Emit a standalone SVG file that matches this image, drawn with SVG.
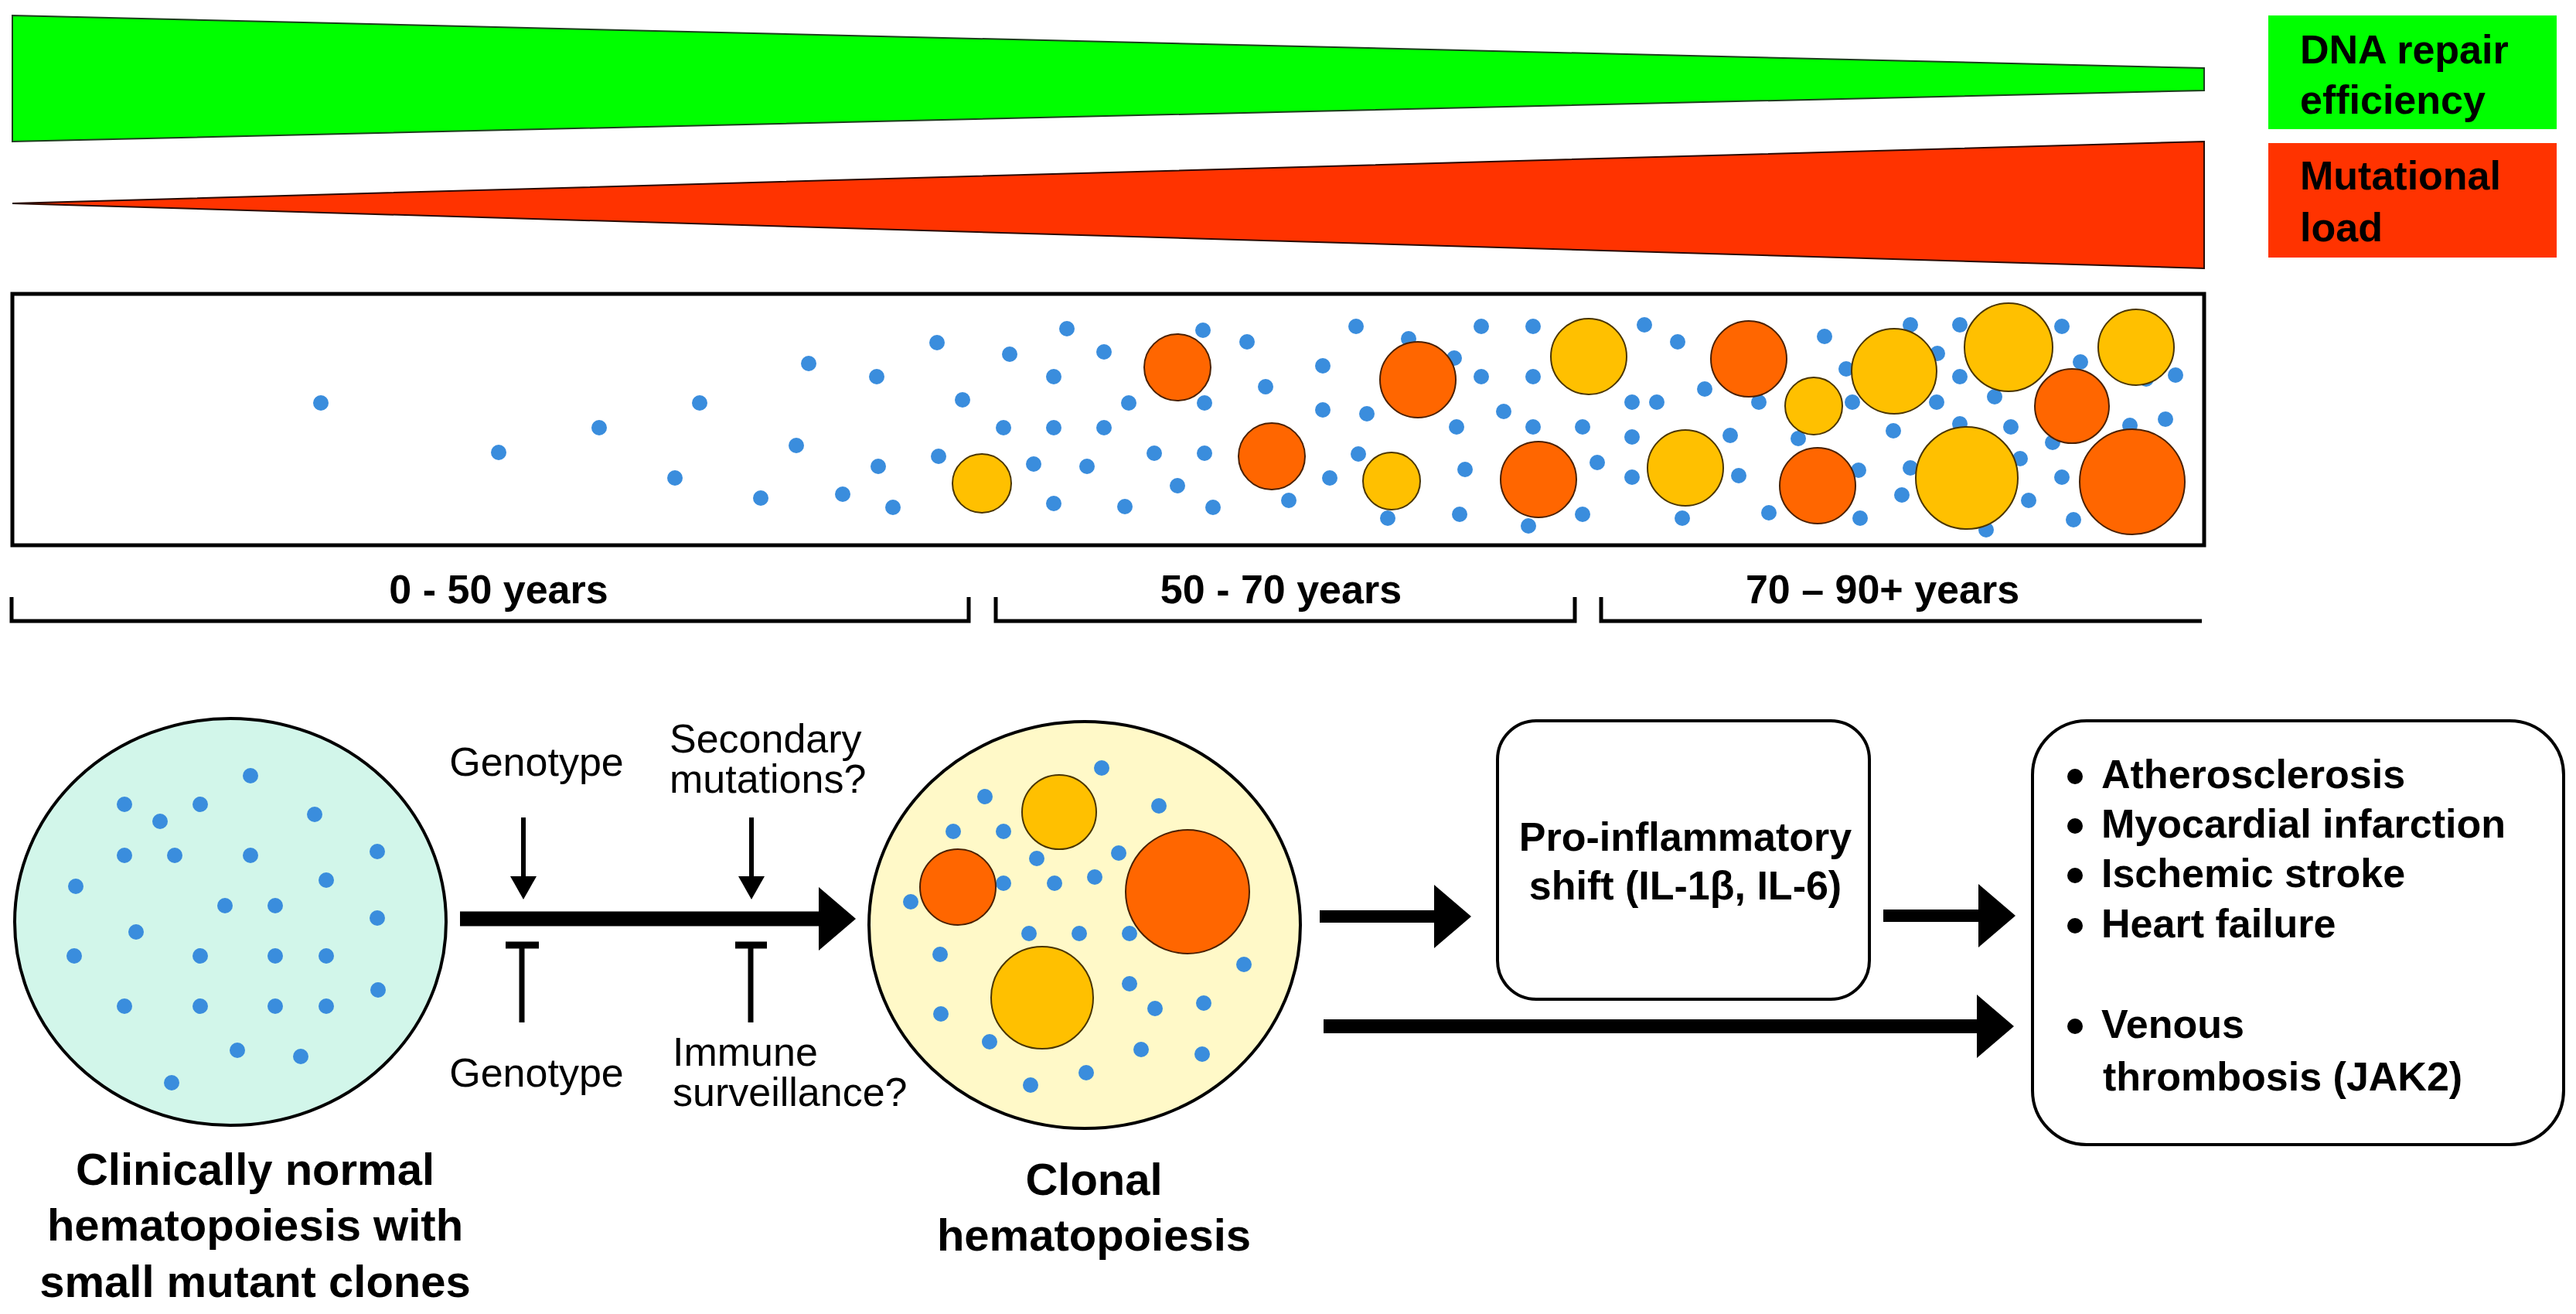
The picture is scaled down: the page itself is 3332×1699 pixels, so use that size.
<svg xmlns="http://www.w3.org/2000/svg" width="3332" height="1699" viewBox="0 0 3332 1699">
<defs>
<style>
text{font-family:"Liberation Sans",Arial,Helvetica,sans-serif;fill:#000}
.b{font-weight:bold;font-size:52px}
.r{font-size:52px}
.lbl{font-weight:bold;font-size:58px}
.dot{fill:#3a8ddd}
.cy{fill:#ffc000;stroke:#4a3500;stroke-width:2}
.co{fill:#ff6600;stroke:#4a2000;stroke-width:2}
.ln{stroke:#000;fill:none}
.box{fill:#fff;stroke:#000;stroke-width:4}
</style>
<marker id="bigHead" viewBox="0 0 48 82" markerWidth="48" markerHeight="82" markerUnits="userSpaceOnUse" refX="18" refY="41" orient="auto"><path d="M0,0 L48,41 L0,82 Z" fill="#000"/></marker>
<marker id="smallHead" viewBox="0 0 30 34" markerWidth="30" markerHeight="34" markerUnits="userSpaceOnUse" refX="10" refY="17" orient="auto"><path d="M0,0 L30,17 L0,34 Z" fill="#000"/></marker>
</defs>
<rect width="3332" height="1699" fill="#fff"/>

<g id="gradient-bars">
<polygon points="16,20 2851,88 2851,117 16,183" fill="#00ff00" stroke="#1d3d1d" stroke-width="2"/>
<polygon points="16,263 2851,183 2851,347" fill="#ff3300" stroke="#2a0a00" stroke-width="2"/>
</g>

<g id="legend-dna">
<rect x="2934" y="20" width="373" height="147" fill="#00ff00"/>
<text class="b" x="2975" y="82">DNA repair</text>
<text class="b" x="2975" y="147">efficiency</text>
</g>
<g id="legend-mut">
<rect x="2934" y="185" width="373" height="148" fill="#ff3300"/>
<text class="b" x="2975" y="245">Mutational</text>
<text class="b" x="2975" y="312">load</text>
</g>

<g id="timeline">
<rect x="16" y="380" width="2835" height="325" fill="#fff" stroke="#000" stroke-width="5"/>
<g id="timeline-dots">
<circle class="dot" cx="415" cy="521" r="10"/><circle class="dot" cx="645" cy="585" r="10"/><circle class="dot" cx="775" cy="553" r="10"/><circle class="dot" cx="905" cy="521" r="10"/><circle class="dot" cx="873" cy="618" r="10"/><circle class="dot" cx="1046" cy="470" r="10"/><circle class="dot" cx="1134" cy="487" r="10"/><circle class="dot" cx="1030" cy="576" r="10"/><circle class="dot" cx="984" cy="644" r="10"/><circle class="dot" cx="1090" cy="639" r="10"/><circle class="dot" cx="1136" cy="603" r="10"/><circle class="dot" cx="1155" cy="656" r="10"/><circle class="dot" cx="1212" cy="443" r="10"/><circle class="dot" cx="1245" cy="517" r="10"/><circle class="dot" cx="1214" cy="590" r="10"/><circle class="dot" cx="1306" cy="458" r="10"/><circle class="dot" cx="1298" cy="553" r="10"/><circle class="dot" cx="1363" cy="553" r="10"/><circle class="dot" cx="1428" cy="553" r="10"/><circle class="dot" cx="1380" cy="425" r="10"/><circle class="dot" cx="1428" cy="455" r="10"/><circle class="dot" cx="1363" cy="487" r="10"/><circle class="dot" cx="1460" cy="521" r="10"/><circle class="dot" cx="1337" cy="600" r="10"/><circle class="dot" cx="1406" cy="603" r="10"/><circle class="dot" cx="1363" cy="651" r="10"/><circle class="dot" cx="1455" cy="655" r="10"/><circle class="dot" cx="1493" cy="586" r="10"/><circle class="dot" cx="1558" cy="586" r="10"/><circle class="dot" cx="1523" cy="628" r="10"/><circle class="dot" cx="1569" cy="656" r="10"/><circle class="dot" cx="1556" cy="427" r="10"/><circle class="dot" cx="1613" cy="442" r="10"/><circle class="dot" cx="1637" cy="500" r="10"/><circle class="dot" cx="1558" cy="521" r="10"/><circle class="dot" cx="1667" cy="647" r="10"/>
<circle class="dot" cx="1754" cy="422" r="10"/><circle class="dot" cx="1711" cy="473" r="10"/><circle class="dot" cx="1711" cy="530" r="10"/><circle class="dot" cx="1768" cy="535" r="10"/><circle class="dot" cx="1822" cy="438" r="10"/><circle class="dot" cx="1881" cy="463" r="10"/><circle class="dot" cx="1916" cy="422" r="10"/><circle class="dot" cx="1983" cy="422" r="10"/><circle class="dot" cx="1916" cy="487" r="10"/><circle class="dot" cx="1983" cy="487" r="10"/><circle class="dot" cx="1945" cy="532" r="10"/><circle class="dot" cx="1884" cy="552" r="10"/><circle class="dot" cx="1983" cy="552" r="10"/><circle class="dot" cx="2047" cy="552" r="10"/><circle class="dot" cx="2127" cy="420" r="10"/><circle class="dot" cx="2170" cy="442" r="10"/><circle class="dot" cx="2111" cy="520" r="10"/><circle class="dot" cx="2143" cy="520" r="10"/><circle class="dot" cx="2205" cy="503" r="10"/><circle class="dot" cx="2111" cy="565" r="10"/><circle class="dot" cx="2238" cy="563" r="10"/><circle class="dot" cx="2275" cy="520" r="10"/><circle class="dot" cx="2360" cy="435" r="10"/><circle class="dot" cx="2388" cy="477" r="10"/><circle class="dot" cx="2396" cy="520" r="10"/><circle class="dot" cx="2449" cy="557" r="10"/><circle class="dot" cx="2326" cy="567" r="10"/><circle class="dot" cx="2471" cy="420" r="10"/><circle class="dot" cx="2535" cy="420" r="10"/><circle class="dot" cx="2506" cy="457" r="10"/><circle class="dot" cx="2535" cy="487" r="10"/><circle class="dot" cx="2505" cy="520" r="10"/><circle class="dot" cx="2580" cy="513" r="10"/><circle class="dot" cx="2535" cy="548" r="10"/><circle class="dot" cx="2601" cy="552" r="10"/><circle class="dot" cx="2667" cy="422" r="10"/><circle class="dot" cx="2691" cy="468" r="10"/><circle class="dot" cx="2776" cy="490" r="10"/><circle class="dot" cx="2814" cy="485" r="10"/><circle class="dot" cx="2801" cy="542" r="10"/><circle class="dot" cx="2755" cy="550" r="10"/><circle class="dot" cx="2655" cy="572" r="10"/><circle class="dot" cx="1757" cy="587" r="10"/><circle class="dot" cx="1720" cy="618" r="10"/><circle class="dot" cx="1795" cy="670" r="10"/><circle class="dot" cx="1895" cy="607" r="10"/><circle class="dot" cx="1888" cy="665" r="10"/><circle class="dot" cx="1977" cy="680" r="10"/><circle class="dot" cx="2047" cy="665" r="10"/><circle class="dot" cx="2066" cy="598" r="10"/><circle class="dot" cx="2111" cy="617" r="10"/><circle class="dot" cx="2176" cy="670" r="10"/><circle class="dot" cx="2249" cy="615" r="10"/><circle class="dot" cx="2288" cy="663" r="10"/><circle class="dot" cx="2404" cy="608" r="10"/><circle class="dot" cx="2406" cy="670" r="10"/><circle class="dot" cx="2471" cy="605" r="10"/><circle class="dot" cx="2460" cy="640" r="10"/><circle class="dot" cx="2569" cy="685" r="10"/><circle class="dot" cx="2613" cy="593" r="10"/><circle class="dot" cx="2624" cy="647" r="10"/><circle class="dot" cx="2667" cy="617" r="10"/><circle class="dot" cx="2682" cy="672" r="10"/>
</g>
<g id="timeline-clones">
<circle class="cy" cx="1270" cy="625" r="38"/>
<circle class="co" cx="1523" cy="475" r="43"/>
<circle class="co" cx="1645" cy="590" r="43"/>
<circle class="co" cx="1834" cy="491" r="49"/>
<circle class="cy" cx="1800" cy="622" r="37"/>
<circle class="cy" cx="2055" cy="461" r="49"/>
<circle class="co" cx="1990" cy="620" r="49"/>
<circle class="co" cx="2262" cy="464" r="49"/>
<circle class="cy" cx="2180" cy="605" r="49"/>
<circle class="cy" cx="2346" cy="525" r="37"/>
<circle class="co" cx="2351" cy="628" r="49"/>
<circle class="cy" cx="2450" cy="480" r="55"/>
<circle class="co" cx="2680" cy="525" r="48"/>
<circle class="cy" cx="2598" cy="449" r="57"/>
<circle class="cy" cx="2763" cy="449" r="49"/>
<circle class="cy" cx="2544" cy="618" r="66"/>
<circle class="co" cx="2758" cy="623" r="68"/>
</g>
</g>

<g id="age-brackets">
<path class="ln" stroke-width="5" d="M15,772 V803 H1253 V772"/>
<path class="ln" stroke-width="5" d="M1288,772 V803 H2037 V772"/>
<path class="ln" stroke-width="5" d="M2071,772 V803 H2848"/>
<text class="b" x="645" y="780" text-anchor="middle">0 - 50 years</text>
<text class="b" x="1657" y="780" text-anchor="middle">50 - 70 years</text>
<text class="b" x="2435" y="780" text-anchor="middle">70 – 90+ years</text>
</g>

<g id="normal-hematopoiesis">
<ellipse cx="298" cy="1192" rx="279" ry="263" fill="#d2f6ea" stroke="#000" stroke-width="4"/>
<circle class="dot" cx="324" cy="1003" r="10"/><circle class="dot" cx="161" cy="1040" r="10"/><circle class="dot" cx="259" cy="1040" r="10"/><circle class="dot" cx="207" cy="1062" r="10"/><circle class="dot" cx="407" cy="1053" r="10"/><circle class="dot" cx="161" cy="1106" r="10"/><circle class="dot" cx="226" cy="1106" r="10"/><circle class="dot" cx="324" cy="1106" r="10"/><circle class="dot" cx="488" cy="1101" r="10"/><circle class="dot" cx="98" cy="1146" r="10"/><circle class="dot" cx="422" cy="1138" r="10"/><circle class="dot" cx="291" cy="1171" r="10"/><circle class="dot" cx="356" cy="1171" r="10"/><circle class="dot" cx="488" cy="1187" r="10"/><circle class="dot" cx="176" cy="1205" r="10"/><circle class="dot" cx="96" cy="1236" r="10"/><circle class="dot" cx="259" cy="1236" r="10"/><circle class="dot" cx="356" cy="1236" r="10"/><circle class="dot" cx="422" cy="1236" r="10"/><circle class="dot" cx="489" cy="1280" r="10"/><circle class="dot" cx="161" cy="1301" r="10"/><circle class="dot" cx="259" cy="1301" r="10"/><circle class="dot" cx="356" cy="1301" r="10"/><circle class="dot" cx="422" cy="1301" r="10"/><circle class="dot" cx="307" cy="1358" r="10"/><circle class="dot" cx="389" cy="1366" r="10"/><circle class="dot" cx="222" cy="1400" r="10"/>
<text class="lbl" x="330" y="1532" text-anchor="middle">Clinically normal</text>
<text class="lbl" x="330" y="1604" text-anchor="middle">hematopoiesis with</text>
<text class="lbl" x="330" y="1677" text-anchor="middle">small mutant clones</text>
</g>

<g id="clonal-hematopoiesis">
<ellipse cx="1403" cy="1196" rx="279" ry="263" fill="#fff9c8" stroke="#000" stroke-width="4"/>
<circle class="dot" cx="1425" cy="993" r="10"/><circle class="dot" cx="1274" cy="1030" r="10"/><circle class="dot" cx="1499" cy="1042" r="10"/><circle class="dot" cx="1233" cy="1075" r="10"/><circle class="dot" cx="1298" cy="1075" r="10"/><circle class="dot" cx="1341" cy="1110" r="10"/><circle class="dot" cx="1447" cy="1103" r="10"/><circle class="dot" cx="1298" cy="1142" r="10"/><circle class="dot" cx="1364" cy="1142" r="10"/><circle class="dot" cx="1416" cy="1134" r="10"/><circle class="dot" cx="1178" cy="1166" r="10"/><circle class="dot" cx="1331" cy="1207" r="10"/><circle class="dot" cx="1396" cy="1207" r="10"/><circle class="dot" cx="1461" cy="1207" r="10"/><circle class="dot" cx="1216" cy="1234" r="10"/><circle class="dot" cx="1609" cy="1247" r="10"/><circle class="dot" cx="1461" cy="1272" r="10"/><circle class="dot" cx="1494" cy="1304" r="10"/><circle class="dot" cx="1557" cy="1297" r="10"/><circle class="dot" cx="1217" cy="1311" r="10"/><circle class="dot" cx="1280" cy="1347" r="10"/><circle class="dot" cx="1476" cy="1357" r="10"/><circle class="dot" cx="1555" cy="1363" r="10"/><circle class="dot" cx="1405" cy="1387" r="10"/><circle class="dot" cx="1333" cy="1403" r="10"/>
<circle class="cy" cx="1370" cy="1050" r="48"/>
<circle class="co" cx="1239" cy="1147" r="49"/>
<circle class="co" cx="1536" cy="1153" r="80"/>
<circle class="cy" cx="1348" cy="1290" r="66"/>
<text class="lbl" x="1415" y="1545" text-anchor="middle">Clonal</text>
<text class="lbl" x="1415" y="1617" text-anchor="middle">hematopoiesis</text>
</g>

<g id="modifiers">
<text class="r" x="694" y="1003" text-anchor="middle">Genotype</text>
<text class="r" x="694" y="1405" text-anchor="middle">Genotype</text>
<text class="r" x="866" y="973">Secondary</text>
<text class="r" x="866" y="1025">mutations?</text>
<text class="r" x="870" y="1378">Immune</text>
<text class="r" x="870" y="1430">surveillance?</text>
</g>

<g id="pro-inflammatory">
<rect class="box" x="1937" y="932" width="481" height="360" rx="50"/>
<text class="b" x="2180" y="1100" text-anchor="middle">Pro-inflammatory</text>
<text class="b" x="2180" y="1163" text-anchor="middle">shift (IL-1β, IL-6)</text>
</g>

<g id="outcomes">
<rect class="box" x="2629" y="932" width="687" height="548" rx="70"/>
<circle cx="2684" cy="1004" r="10" fill="#000"/><text class="b" x="2718" y="1019">Atherosclerosis</text>
<circle cx="2684" cy="1068" r="10" fill="#000"/><text class="b" x="2718" y="1083">Myocardial infarction</text>
<circle cx="2684" cy="1132" r="10" fill="#000"/><text class="b" x="2718" y="1147">Ischemic stroke</text>
<circle cx="2684" cy="1197" r="10" fill="#000"/><text class="b" x="2718" y="1212">Heart failure</text>
<circle cx="2684" cy="1327" r="10" fill="#000"/><text class="b" x="2718" y="1342">Venous</text>
<text class="b" x="2720" y="1410">thrombosis (JAK2)</text>
</g>

<g id="connectors">
<line class="ln" x1="595" y1="1188" x2="1077" y2="1188" stroke-width="19" marker-end="url(#bigHead)"/>
<line class="ln" x1="1707" y1="1185" x2="1873" y2="1185" stroke-width="16" marker-end="url(#bigHead)"/>
<line class="ln" x1="2436" y1="1184" x2="2577" y2="1184" stroke-width="16" marker-end="url(#bigHead)"/>
<line class="ln" x1="1712" y1="1327" x2="2575" y2="1327" stroke-width="18" marker-end="url(#bigHead)"/>
<line class="ln" x1="677" y1="1057" x2="677" y2="1143" stroke-width="6" marker-end="url(#smallHead)"/>
<line class="ln" x1="972" y1="1057" x2="972" y2="1143" stroke-width="6" marker-end="url(#smallHead)"/>
<line class="ln" x1="675" y1="1322" x2="675" y2="1218" stroke-width="7"/>
<line class="ln" x1="654" y1="1222" x2="697" y2="1222" stroke-width="9"/>
<line class="ln" x1="971" y1="1322" x2="971" y2="1218" stroke-width="7"/>
<line class="ln" x1="951" y1="1222" x2="992" y2="1222" stroke-width="9"/>
</g>
</svg>
